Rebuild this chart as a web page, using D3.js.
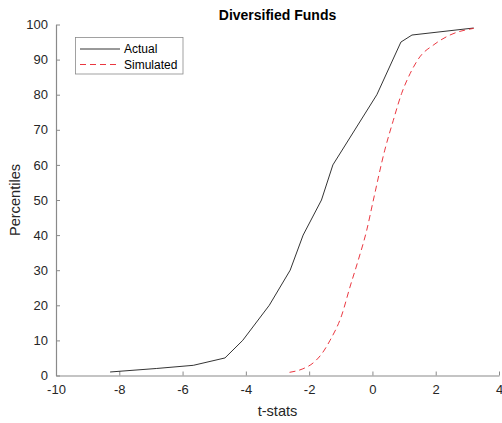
<!DOCTYPE html>
<html><head><meta charset="utf-8">
<script src="https://cdn.jsdelivr.net/npm/d3@7"></script>
<style>body{margin:0;background:#fff;} svg{display:block;font-family:"Liberation Sans",Arial,sans-serif;}</style>
</head><body>
<svg id="c" width="502" height="423"></svg>
<script>
const actualT = [-8.29, -6.82, -5.66, -4.66, -4.1, -3.26, -2.6, -2.19, -1.61, -1.25, 0.14, 0.9, 1.25, 3.2];
const actualP = [1, 2, 2.9, 5, 10, 20, 30, 40, 50, 60, 80, 95, 97, 99];
const simT = [-2.62, -2.2, -1.87, -1.6, -1.34, -0.97, -0.71, -0.45, -0.18, 0.03, 0.39, 0.66, 0.92, 1.19, 1.5, 1.92, 2.45, 3.2];
const simP = [0.9, 1.9, 3.6, 6.2, 10, 17.2, 25.2, 32.8, 41.4, 50, 64.2, 72.7, 80.3, 86, 90.8, 94.1, 97, 98.9];
const xTicks = [-10, -8, -6, -4, -2, 0, 2, 4];
const yTicks = [0, 10, 20, 30, 40, 50, 60, 70, 80, 90, 100];
const seriesNames = ["Actual", "Simulated"];

const svg = d3.select("#c");
const L = 56, R = 499, T = 24.5, B = 375.5;
const x = d3.scaleLinear().domain([-10, 4]).range([L, R]);
const y = d3.scaleLinear().domain([0, 100]).range([B, T]);
const axisColor = "#8a8a8a";
const textColor = "#262626";

const xa = svg.append("g").attr("transform", `translate(0,${B})`)
  .call(d3.axisBottom(x).tickValues(xTicks).tickFormat(d => String(d)).tickSizeInner(-4).tickSizeOuter(0).tickPadding(9));
const ya = svg.append("g").attr("transform", `translate(${L},0)`)
  .call(d3.axisLeft(y).tickValues(yTicks).tickFormat(d => String(d)).tickSizeInner(-4).tickSizeOuter(0).tickPadding(8));
[xa, ya].forEach(a => {
  a.select(".domain").attr("stroke", axisColor).attr("stroke-width", 1.2);
  a.selectAll(".tick line").attr("stroke", axisColor).attr("stroke-width", 1);
  a.selectAll(".tick text").attr("fill", textColor).style("font-size", "13px")
   .style("font-family", '"Liberation Sans",Arial,sans-serif');
});

const line = d3.line().x(d => x(d[0])).y(d => y(d[1]));
const simLine = d3.line().x(d => x(d[0])).y(d => y(d[1])).curve(d3.curveMonotoneX);

svg.append("path").datum(actualT.map((t, i) => [t, actualP[i]]))
  .attr("d", line).attr("fill", "none").attr("stroke", "#000").attr("stroke-width", 0.8);
svg.append("path").datum(simT.map((t, i) => [t, simP[i]]))
  .attr("d", simLine).attr("fill", "none").attr("stroke", "#e8202a").attr("stroke-width", 0.9)
  .attr("stroke-dasharray", "6,4");

svg.append("text").attr("x", (L + R) / 2).attr("y", 19.5).attr("text-anchor", "middle")
  .style("font-size", "14px").style("font-weight", "bold").attr("fill", "#000").text("Diversified Funds");
svg.append("text").attr("x", (L + R) / 2).attr("y", 416).attr("text-anchor", "middle")
  .style("font-size", "14.6px").attr("fill", textColor).text("t-stats");
svg.append("text").attr("transform", `translate(19.5,${(T + B) / 2}) rotate(-90)`).attr("text-anchor", "middle")
  .style("font-size", "14.6px").attr("fill", textColor).text("Percentiles");

const lg = svg.append("g");
lg.append("rect").attr("x", 75.5).attr("y", 37.5).attr("width", 107.5).attr("height", 36.5)
  .attr("fill", "#fff").attr("stroke", axisColor).attr("stroke-width", 0.8);
const rowsY = [49, 64.5];
lg.append("line").attr("x1", 80).attr("x2", 120).attr("y1", rowsY[0]).attr("y2", rowsY[0])
  .attr("stroke", "#000").attr("stroke-width", 0.8);
lg.append("line").attr("x1", 80).attr("x2", 120).attr("y1", rowsY[1]).attr("y2", rowsY[1])
  .attr("stroke", "#e8202a").attr("stroke-width", 0.9).attr("stroke-dasharray", "6,4");
seriesNames.forEach((n, i) => {
  lg.append("text").attr("x", 124).attr("y", rowsY[i] + 4.3).style("font-size", "12px")
    .attr("fill", "#000").text(n);
});
</script>
</body></html>
